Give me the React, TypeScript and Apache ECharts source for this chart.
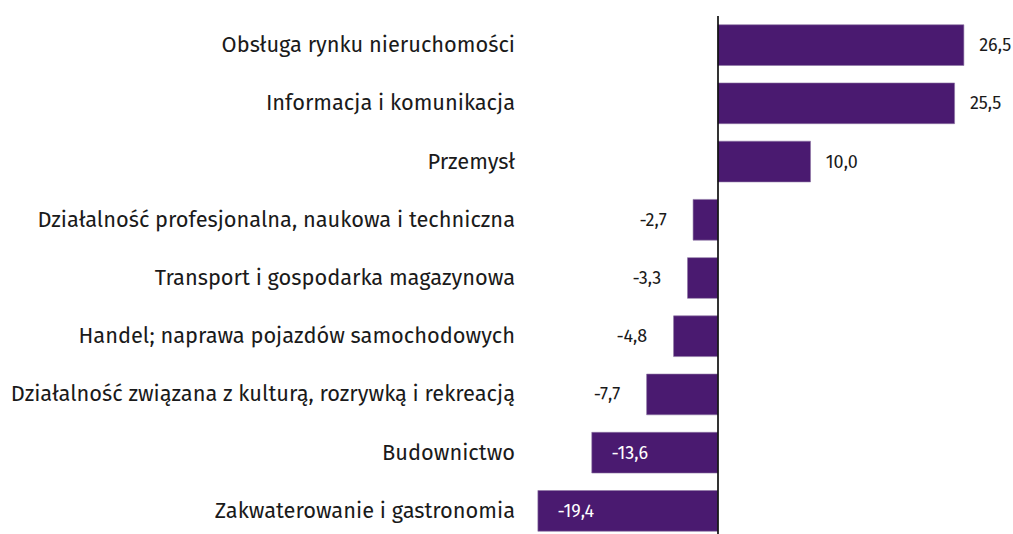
import React, { useEffect, useRef } from "react";
import * as echarts from "echarts";

const categories = [
  "Obsługa rynku nieruchomości",
  "Informacja i komunikacja",
  "Przemysł",
  "Działalność profesjonalna, naukowa i techniczna",
  "Transport i gospodarka magazynowa",
  "Handel; naprawa pojazdów samochodowych",
  "Działalność związana z kulturą, rozrywką i rekreacją",
  "Budownictwo",
  "Zakwaterowanie i gastronomia",
];
const values = [26.5, 25.5, 10.0, -2.7, -3.3, -4.8, -7.7, -13.6, -19.4];
const insideThreshold = -10;

const FONT = "'Fira Sans', 'Open Sans', 'Noto Sans', sans-serif";
const BAR = "#4a1a70";

export default function App() {
  const ref = useRef<HTMLDivElement>(null);
  useEffect(() => {
    const chart = echarts.init(ref.current!, undefined, { renderer: "svg" });
    const fmt = (v: number) => v.toFixed(1).replace(".", ",");
    chart.setOption({
      animation: false,
      grid: { left: 532, right: 16.3, top: 16, bottom: 0, containLabel: false },
      xAxis: {
        type: "value",
        min: -20,
        max: 30,
        show: false,
      },
      yAxis: {
        type: "category",
        data: categories,
        inverse: true,
        axisLine: { show: false, onZero: false },
        axisTick: { show: false },
        axisLabel: {
          margin: 17,
          color: "#1a1a1a",
          fontSize: 21.8,
          fontFamily: FONT,
        },
      },
      series: [
        {
          type: "bar",
          barCategoryGap: "29%",
          itemStyle: { color: BAR, borderColor: "#8d76a3", borderWidth: 0.6 },
          data: values.map((v) => {
            let label: any;
            if (v >= 0) {
              label = { show: true, position: "right", distance: 15, color: "#1a1a1a" };
            } else if (v > insideThreshold) {
              label = { show: true, position: "left", distance: 26, color: "#1a1a1a" };
            } else {
              label = { show: true, position: "insideLeft", distance: 20, color: "#ffffff" };
            }
            return { value: v, label };
          }),
          label: {
            fontSize: 18,
            fontFamily: FONT,
            formatter: (p: any) => fmt(p.value),
          },
          markLine: {
            silent: true,
            symbol: "none",
            label: { show: false },
            lineStyle: { color: "#000", width: 1.6, type: "solid" },
            data: [{ xAxis: 0 }],
          },
        },
      ],
    });
    return () => chart.dispose();
  }, []);
  return (
    <div
      ref={ref}
      style={{ position: "fixed", left: 0, top: 0, width: 1013, height: 540, background: "#fff" }}
    />
  );
}
